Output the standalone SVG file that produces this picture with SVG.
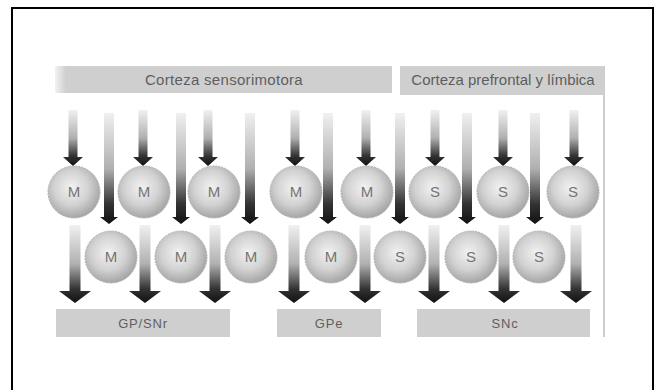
<svg xmlns="http://www.w3.org/2000/svg" width="654" height="390" viewBox="0 0 654 390">
<defs>
<style>
.box{fill:#cfcfcf}
.lbl{font-family:"Liberation Sans",Arial,sans-serif;fill:#5e5e5e;text-anchor:middle}
.cell{fill:url(#ball);stroke:#b0b0b0;stroke-width:1;stroke-dasharray:2 1}
.ct{font-family:"Liberation Sans",Arial,sans-serif;font-size:15px;fill:#747474;text-anchor:middle}
.arr{fill:url(#shaft)}
</style>
<radialGradient id="ball" cx="0.45" cy="0.42" r="0.6">
<stop offset="0" stop-color="#f2f2f2"/>
<stop offset="0.55" stop-color="#d2d2d2"/>
<stop offset="1" stop-color="#a2a2a2"/>
</radialGradient>
<linearGradient id="shaft" x1="0" y1="0" x2="0" y2="1">
<stop offset="0" stop-color="#f0f0f0"/>
<stop offset="0.5" stop-color="#b0b0b0"/>
<stop offset="0.82" stop-color="#333"/>
<stop offset="1" stop-color="#111"/>
</linearGradient>
<linearGradient id="fadeL" gradientUnits="userSpaceOnUse" x1="55" y1="0" x2="66" y2="0">
<stop offset="0" stop-color="#f2f2f2"/>
<stop offset="1" stop-color="#cfcfcf"/>
</linearGradient>
<path id="aS" d="M-4.5 0 H4.5 V47 H10 L0 56 L-10 47 H-4.5 Z"/>
<path id="aL" d="M-5 0 H5 V104 H9 L0 111 L-9 104 H-5 Z"/>
<path id="aB" d="M-5.5 0 H5.5 V66 H16 L0 78 L-16 66 H-5.5 Z"/>
</defs>
<rect x="0" y="0" width="654" height="390" fill="#fff"/>
<rect x="12" y="8" width="641" height="395" fill="none" stroke="#000" stroke-width="2"/>
<line x1="604" y1="66" x2="604" y2="337" stroke="#9a9a9a" stroke-width="1"/>

<g id="corteza-sensorimotora">
<rect x="55" y="66" width="337" height="27" fill="url(#fadeL)"/>
<text class="lbl" x="224" y="85" font-size="15" letter-spacing="0.3">Corteza sensorimotora</text>
</g>
<g id="corteza-prefrontal">
<rect class="box" x="400" y="66" width="204" height="29"/>
<text class="lbl" x="503" y="85" font-size="15">Corteza prefrontal y límbica</text>
</g>
<g id="gp-snr">
<rect class="box" x="56" y="309" width="174" height="28"/>
<text class="lbl" x="143" y="328" font-size="13" letter-spacing="0.8">GP/SNr</text>
</g>
<g id="gpe">
<rect class="box" x="277" y="309" width="104" height="28"/>
<text class="lbl" x="329" y="328" font-size="13" letter-spacing="0.8">GPe</text>
</g>
<g id="snc">
<rect class="box" x="417" y="309" width="173" height="28"/>
<text class="lbl" x="505" y="328" font-size="13" letter-spacing="0.8">SNc</text>
</g>

<g id="connectors">
<use href="#aS" class="arr" x="73" y="110"/>
<use href="#aS" class="arr" x="143" y="110"/>
<use href="#aS" class="arr" x="208" y="110"/>
<use href="#aS" class="arr" x="295" y="110"/>
<use href="#aS" class="arr" x="366" y="110"/>
<use href="#aS" class="arr" x="435" y="110"/>
<use href="#aS" class="arr" x="503" y="110"/>
<use href="#aS" class="arr" x="574" y="110"/>

<use href="#aL" class="arr" x="109" y="113"/>
<use href="#aL" class="arr" x="181" y="113"/>
<use href="#aL" class="arr" x="250" y="113"/>
<use href="#aL" class="arr" x="328" y="113"/>
<use href="#aL" class="arr" x="400" y="113"/>
<use href="#aL" class="arr" x="467" y="113"/>
<use href="#aL" class="arr" x="535" y="113"/>

<use href="#aB" class="arr" x="75" y="225"/>
<use href="#aB" class="arr" x="145" y="225"/>
<use href="#aB" class="arr" x="215" y="225"/>
<use href="#aB" class="arr" x="294" y="225"/>
<use href="#aB" class="arr" x="365" y="225"/>
<use href="#aB" class="arr" x="434" y="225"/>
<use href="#aB" class="arr" x="504" y="225"/>
<use href="#aB" class="arr" x="576" y="225"/>
</g>

<g id="m1"><circle class="cell" cx="74" cy="192" r="26"/><text class="ct" x="74" y="197">M</text></g>
<g id="m2"><circle class="cell" cx="144" cy="192" r="26"/><text class="ct" x="144" y="197">M</text></g>
<g id="m3"><circle class="cell" cx="214" cy="192" r="26"/><text class="ct" x="214" y="197">M</text></g>
<g id="m4"><circle class="cell" cx="296" cy="192" r="26"/><text class="ct" x="296" y="197">M</text></g>
<g id="m5"><circle class="cell" cx="367" cy="192" r="26"/><text class="ct" x="367" y="197">M</text></g>
<g id="s1"><circle class="cell" cx="435" cy="192" r="26"/><text class="ct" x="435" y="197">S</text></g>
<g id="s2"><circle class="cell" cx="503" cy="192" r="26"/><text class="ct" x="503" y="197">S</text></g>
<g id="s3"><circle class="cell" cx="573" cy="192" r="26"/><text class="ct" x="573" y="197">S</text></g>

<g id="m6"><circle class="cell" cx="111" cy="257" r="26"/><text class="ct" x="111" y="262">M</text></g>
<g id="m7"><circle class="cell" cx="181" cy="257" r="26"/><text class="ct" x="181" y="262">M</text></g>
<g id="m8"><circle class="cell" cx="251" cy="257" r="26"/><text class="ct" x="251" y="262">M</text></g>
<g id="m9"><circle class="cell" cx="331" cy="257" r="26"/><text class="ct" x="331" y="262">M</text></g>
<g id="s4"><circle class="cell" cx="400" cy="257" r="26"/><text class="ct" x="400" y="262">S</text></g>
<g id="s5"><circle class="cell" cx="471" cy="257" r="26"/><text class="ct" x="471" y="262">S</text></g>
<g id="s6"><circle class="cell" cx="539" cy="257" r="26"/><text class="ct" x="539" y="262">S</text></g>
</svg>
